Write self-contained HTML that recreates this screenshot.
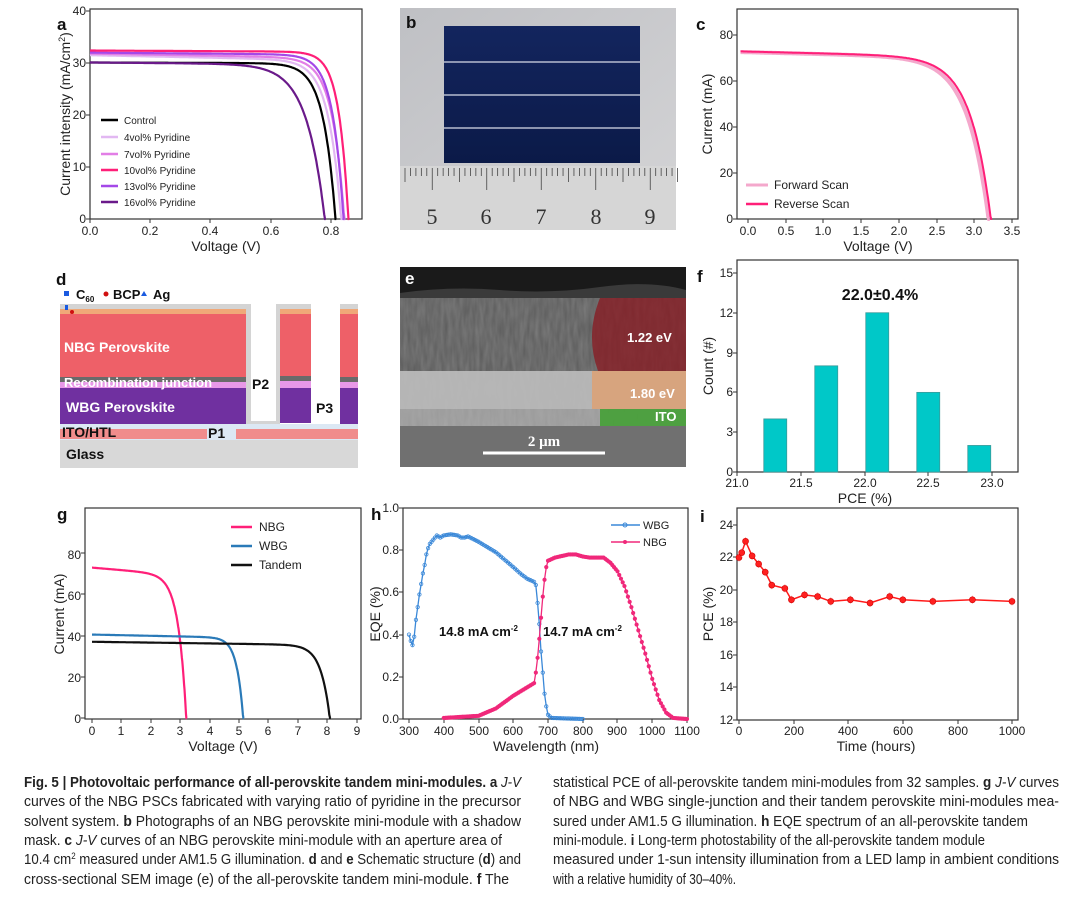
<!DOCTYPE html>
<html><head><meta charset="utf-8"><style>
body{margin:0;background:#fff}
svg{display:block;font-family:"Liberation Sans",sans-serif}
.t{font-size:12px;fill:#222}
.al{font-size:14px;fill:#222}
.pl{font-size:17px;font-weight:bold;fill:#111}
.cap{font-size:15px;fill:#222;font-family:"Liberation Sans Narrow","Liberation Sans",sans-serif}
.b{font-weight:bold}
</style></head><body>
<svg id="s" width="1080" height="897" viewBox="0 0 1080 897" xmlns="http://www.w3.org/2000/svg">
<rect width="1080" height="897" fill="#fff"/>

<!-- ===== Panel a ===== -->
<rect x="90" y="9" width="272" height="210" fill="none" stroke="#333" stroke-width="1.2"/>
<g id="ga"></g>
<text class="pl" x="57" y="30">a</text>
<g class="t" text-anchor="end"><text x="86" y="223">0</text><text x="86" y="171">10</text><text x="86" y="119">20</text><text x="86" y="67">30</text><text x="86" y="15">40</text></g>
<g class="t" text-anchor="middle"><text x="90" y="235">0.0</text><text x="150" y="235">0.2</text><text x="210" y="235">0.4</text><text x="271" y="235">0.6</text><text x="331" y="235">0.8</text></g>
<text class="al" x="226" y="251" text-anchor="middle">Voltage (V)</text>
<text class="al" transform="translate(70,114) rotate(-90)" text-anchor="middle">Current intensity (mA/cm<tspan font-size="9" dy="-5">2</tspan><tspan dy="5">)</tspan></text>
<g font-size="10" fill="#222">
<line x1="101" y1="120" x2="118" y2="120" stroke="#000" stroke-width="2.5"/><text x="124" y="124">Control</text>
<line x1="101" y1="137" x2="118" y2="137" stroke="#e2b8f2" stroke-width="2.5"/><text x="124" y="141">4vol% Pyridine</text>
<line x1="101" y1="154" x2="118" y2="154" stroke="#e27ee6" stroke-width="2.5"/><text x="124" y="158">7vol% Pyridine</text>
<line x1="101" y1="170" x2="118" y2="170" stroke="#ff1f78" stroke-width="2.5"/><text x="124" y="174">10vol% Pyridine</text>
<line x1="101" y1="186" x2="118" y2="186" stroke="#a448e8" stroke-width="2.5"/><text x="124" y="190">13vol% Pyridine</text>
<line x1="101" y1="202" x2="118" y2="202" stroke="#6a1a8a" stroke-width="2.5"/><text x="124" y="206">16vol% Pyridine</text>
</g>

<!-- ===== Panel b ===== -->
<defs>
<linearGradient id="bg1" x1="0" y1="0" x2="1" y2="1"><stop offset="0" stop-color="#bfc0c4"/><stop offset="1" stop-color="#d4d4d6"/></linearGradient>
<linearGradient id="mod" x1="0" y1="0" x2="0" y2="1"><stop offset="0" stop-color="#13255e"/><stop offset="1" stop-color="#0b1a48"/></linearGradient>
<clipPath id="ce"><rect x="400" y="267" width="286" height="200"/></clipPath>
<filter id="noise" filterUnits="userSpaceOnUse" x="400" y="298" width="286" height="128"><feTurbulence type="fractalNoise" baseFrequency="0.25 0.05" numOctaves="2" seed="3"/><feColorMatrix values="0 0 0 0 0.5 0 0 0 0 0.5 0 0 0 0 0.5 0 0 0 0.35 0"/></filter>
</defs>
<rect x="400" y="8" width="276" height="222" fill="url(#bg1)"/>
<rect x="444" y="26" width="196" height="137" fill="url(#mod)"/>
<g stroke="#d8dce8" stroke-width="1.2"><line x1="444" y1="62" x2="640" y2="62"/><line x1="444" y1="95" x2="640" y2="95"/><line x1="444" y1="128" x2="640" y2="128"/></g>
<rect x="400" y="166" width="276" height="64" fill="#d6d6d6"/>
<g id="ruler" stroke="#444" stroke-width="0.8"></g>
<g font-family="Liberation Serif,serif" font-size="22" fill="#333" text-anchor="middle"><text x="432" y="224">5</text><text x="486" y="224">6</text><text x="541" y="224">7</text><text x="596" y="224">8</text><text x="650" y="224">9</text></g>
<text class="pl" x="406" y="28">b</text>

<!-- ===== Panel c ===== -->
<rect x="737" y="9" width="281" height="210" fill="none" stroke="#333" stroke-width="1.2"/>
<g id="gc"></g>
<text class="pl" x="696" y="30">c</text>
<g class="t" text-anchor="end"><text x="733" y="223">0</text><text x="733" y="177">20</text><text x="733" y="131">40</text><text x="733" y="85">60</text><text x="733" y="39">80</text></g>
<g class="t" text-anchor="middle"><text x="748" y="235">0.0</text><text x="786" y="235">0.5</text><text x="823" y="235">1.0</text><text x="861" y="235">1.5</text><text x="899" y="235">2.0</text><text x="937" y="235">2.5</text><text x="974" y="235">3.0</text><text x="1012" y="235">3.5</text></g>
<text class="al" x="878" y="251" text-anchor="middle">Voltage (V)</text>
<text class="al" transform="translate(712,114) rotate(-90)" text-anchor="middle">Current (mA)</text>
<g font-size="12" fill="#222">
<line x1="746" y1="185" x2="768" y2="185" stroke="#f4a8cc" stroke-width="3"/><text x="774" y="189">Forward Scan</text>
<line x1="746" y1="204" x2="768" y2="204" stroke="#ff1f78" stroke-width="2.5"/><text x="774" y="208">Reverse Scan</text>
</g>

<!-- ===== Panel d ===== -->
<text class="pl" x="56" y="285">d</text>
<rect x="64" y="291" width="5" height="5" fill="#1a5ae0"/>
<text x="76" y="299" font-size="13" font-weight="bold" fill="#111">C<tspan font-size="8" dy="3">60</tspan></text>
<circle cx="106" cy="294" r="2.5" fill="#d01010"/><text x="113" y="299" font-size="13" font-weight="bold" fill="#111">BCP</text>
<polygon points="144,291 147,296 141,296" fill="#1a5ae0"/><text x="153" y="299" font-size="13" font-weight="bold" fill="#111">Ag</text>
<rect x="60" y="440" width="298" height="28" fill="#d8d8d8"/>
<rect x="60" y="424" width="298" height="16" fill="#dce8f4"/>
<rect x="60" y="429" width="147" height="10" fill="#f08c8c"/>
<rect x="236" y="429" width="122" height="10" fill="#f08c8c"/>
<rect x="60" y="304" width="186" height="6" fill="#d4d4d4"/>
<rect x="60" y="309" width="186" height="5" fill="#f0a878"/>
<rect x="60" y="314" width="186" height="63" fill="#ee6068"/>
<rect x="60" y="377" width="186" height="5" fill="#6a6a6a"/>
<rect x="60" y="382" width="186" height="6" fill="#e898e8"/>
<rect x="60" y="388" width="186" height="36" fill="#7030a0"/>
<rect x="246" y="304" width="5" height="120" fill="#d4d4d4"/>
<rect x="251" y="304" width="25" height="119" fill="#fff"/>
<rect x="276" y="304" width="4" height="120" fill="#d4d4d4"/>
<rect x="246" y="421" width="34" height="3" fill="#d4d4d4"/>
<rect x="280" y="304" width="31" height="5" fill="#d4d4d4"/>
<rect x="280" y="309" width="31" height="5" fill="#f0a878"/>
<rect x="280" y="314" width="31" height="62" fill="#ee6068"/>
<rect x="280" y="376" width="31" height="5" fill="#6a6a6a"/>
<rect x="280" y="381" width="31" height="7" fill="#e898e8"/>
<rect x="280" y="388" width="31" height="35" fill="#7030a0"/>
<rect x="311" y="304" width="29" height="120" fill="#fff"/>
<rect x="340" y="304" width="18" height="5" fill="#d4d4d4"/>
<rect x="340" y="309" width="18" height="5" fill="#f0a878"/>
<rect x="340" y="314" width="18" height="63" fill="#ee6068"/>
<rect x="340" y="377" width="18" height="5" fill="#6a6a6a"/>
<rect x="340" y="382" width="18" height="6" fill="#e898e8"/>
<rect x="340" y="388" width="18" height="36" fill="#7030a0"/>
<rect x="65" y="305" width="3" height="5" fill="#1a5ae0"/><circle cx="72" cy="312" r="2" fill="#d01010"/>
<g font-weight="bold" font-size="14">
<text x="64" y="352" fill="#fff">NBG Perovskite</text>
<text x="64" y="387" fill="#fff" font-size="13">Recombination junction</text>
<text x="66" y="412" fill="#fff">WBG Perovskite</text>
<text x="62" y="437" fill="#111">ITO/HTL</text>
<text x="66" y="459" fill="#111">Glass</text>
<text x="208" y="438" fill="#111">P1</text>
<text x="252" y="389" fill="#111">P2</text>
<text x="316" y="413" fill="#111">P3</text>
</g>

<!-- ===== Panel e ===== -->
<g clip-path="url(#ce)">
<rect x="400" y="267" width="286" height="200" fill="#6c6c6c"/>
<rect x="400" y="267" width="286" height="26" fill="#1a1a1a"/>
<path d="M400,293 Q450,286 500,290 T600,287 T686,290 L686,300 L400,300Z" fill="#3a3a3a"/>
<rect x="400" y="298" width="286" height="73" fill="#5a5a5a"/>
<rect x="400" y="371" width="286" height="38" fill="#b4b4b4"/>
<rect x="400" y="409" width="286" height="17" fill="#9a9a9a"/>
<rect x="400" y="426" width="286" height="41" fill="#707070"/>
<rect x="400" y="298" width="286" height="128" filter="url(#noise)"/>
<path d="M600,298 Q585,335 598,371 L686,371 L686,298Z" fill="#8a1820" opacity="0.75"/>
<rect x="592" y="371" width="94" height="38" fill="#e0a070" opacity="0.8"/>
<rect x="600" y="409" width="86" height="17" fill="#40a030" opacity="0.85"/>
</g>
<line x1="483" y1="453" x2="605" y2="453" stroke="#fff" stroke-width="3"/>
<text x="544" y="446" text-anchor="middle" fill="#fff" font-family="Liberation Serif,serif" font-weight="bold" font-size="15">2 μm</text>
<g fill="#fff" font-size="13" font-weight="bold"><text x="627" y="342">1.22 eV</text><text x="630" y="398">1.80 eV</text><text x="655" y="421">ITO</text></g>
<text x="405" y="284" font-size="17" font-weight="bold" fill="#fff">e</text>

<!-- ===== Panel f ===== -->
<rect x="737" y="260" width="281" height="212" fill="none" stroke="#333" stroke-width="1.2"/>
<g id="gf"></g>
<text class="pl" x="697" y="282">f</text>
<text x="880" y="300" text-anchor="middle" font-size="16" font-weight="bold" fill="#111">22.0±0.4%</text>
<g class="t" text-anchor="end"><text x="733" y="476">0</text><text x="733" y="436">3</text><text x="733" y="396">6</text><text x="733" y="357">9</text><text x="733" y="317">12</text><text x="733" y="277">15</text></g>
<g class="t" text-anchor="middle"><text x="737" y="487">21.0</text><text x="801" y="487">21.5</text><text x="865" y="487">22.0</text><text x="928" y="487">22.5</text><text x="992" y="487">23.0</text></g>
<text class="al" x="865" y="503" text-anchor="middle">PCE (%)</text>
<text class="al" transform="translate(713,366) rotate(-90)" text-anchor="middle">Count (#)</text>

<!-- ===== Panel g ===== -->
<rect x="85" y="508" width="276" height="211" fill="none" stroke="#333" stroke-width="1.2"/>
<g id="gg"></g>
<text class="pl" x="57" y="520">g</text>
<g class="t" text-anchor="end"><text x="81" y="723">0</text><text x="81" y="682">20</text><text x="81" y="641">40</text><text x="81" y="600">60</text><text x="81" y="559">80</text></g>
<g class="t" text-anchor="middle"><text x="92" y="735">0</text><text x="121" y="735">1</text><text x="151" y="735">2</text><text x="180" y="735">3</text><text x="210" y="735">4</text><text x="239" y="735">5</text><text x="268" y="735">6</text><text x="298" y="735">7</text><text x="327" y="735">8</text><text x="357" y="735">9</text></g>
<text class="al" x="223" y="751" text-anchor="middle">Voltage (V)</text>
<text class="al" transform="translate(64,614) rotate(-90)" text-anchor="middle">Current (mA)</text>
<g font-size="12" fill="#222">
<line x1="231" y1="527" x2="252" y2="527" stroke="#ff1f78" stroke-width="2.5"/><text x="259" y="531">NBG</text>
<line x1="231" y1="546" x2="252" y2="546" stroke="#2a7ab8" stroke-width="2.5"/><text x="259" y="550">WBG</text>
<line x1="231" y1="565" x2="252" y2="565" stroke="#111" stroke-width="2.5"/><text x="259" y="569">Tandem</text>
</g>

<!-- ===== Panel h ===== -->
<rect x="403" y="508" width="285" height="211" fill="none" stroke="#333" stroke-width="1.2"/>
<g id="gh"></g>
<text class="pl" x="371" y="520">h</text>
<g class="t" text-anchor="end"><text x="399" y="723">0.0</text><text x="399" y="681">0.2</text><text x="399" y="639">0.4</text><text x="399" y="596">0.6</text><text x="399" y="554">0.8</text><text x="399" y="512">1.0</text></g>
<g class="t" text-anchor="middle"><text x="409" y="735">300</text><text x="444" y="735">400</text><text x="479" y="735">500</text><text x="513" y="735">600</text><text x="548" y="735">700</text><text x="583" y="735">800</text><text x="617" y="735">900</text><text x="652" y="735">1000</text><text x="687" y="735">1100</text></g>
<text class="al" x="546" y="751" text-anchor="middle">Wavelength (nm)</text>
<text class="al" transform="translate(380,614) rotate(-90)" text-anchor="middle">EQE (%)</text>
<g font-size="11" fill="#222">
<line x1="611" y1="525" x2="640" y2="525" stroke="#3a88d8" stroke-width="1.5"/><circle cx="625" cy="525" r="2" fill="none" stroke="#3a88d8"/><text x="643" y="529">WBG</text>
<line x1="611" y1="542" x2="640" y2="542" stroke="#f0287a" stroke-width="1.5"/><circle cx="625" cy="542" r="2" fill="#f0287a"/><text x="643" y="546">NBG</text>
</g>
<g font-size="13" font-weight="bold" fill="#111">
<text x="439" y="636">14.8 mA cm<tspan font-size="8" dy="-5">-2</tspan></text>
<text x="543" y="636">14.7 mA cm<tspan font-size="8" dy="-5">-2</tspan></text>
</g>

<!-- ===== Panel i ===== -->
<rect x="737" y="508" width="281" height="212" fill="none" stroke="#333" stroke-width="1.2"/>
<g id="gi"></g>
<text class="pl" x="700" y="522">i</text>
<g class="t" text-anchor="end"><text x="733" y="724">12</text><text x="733" y="691">14</text><text x="733" y="659">16</text><text x="733" y="626">18</text><text x="733" y="594">20</text><text x="733" y="561">22</text><text x="733" y="529">24</text></g>
<g class="t" text-anchor="middle"><text x="739" y="735">0</text><text x="794" y="735">200</text><text x="848" y="735">400</text><text x="903" y="735">600</text><text x="958" y="735">800</text><text x="1012" y="735">1000</text></g>
<text class="al" x="876" y="751" text-anchor="middle">Time (hours)</text>
<text class="al" transform="translate(713,614) rotate(-90)" text-anchor="middle">PCE (%)</text>

<!-- ===== Caption ===== -->
<g class="cap">
<text x="24" y="787" textLength="497" lengthAdjust="spacingAndGlyphs"><tspan class="b">Fig. 5 | Photovoltaic performance of all-perovskite tandem mini-modules.</tspan> <tspan class="b">a</tspan> <tspan font-style="italic">J-V</tspan></text>
<text x="24" y="806" textLength="497" lengthAdjust="spacingAndGlyphs">curves of the NBG PSCs fabricated with varying ratio of pyridine in the precursor</text>
<text x="24" y="826" textLength="497" lengthAdjust="spacingAndGlyphs">solvent system. <tspan class="b">b</tspan> Photographs of an NBG perovskite mini-module with a shadow</text>
<text x="24" y="845" textLength="478" lengthAdjust="spacingAndGlyphs">mask. <tspan class="b">c</tspan> <tspan font-style="italic">J-V</tspan> curves of an NBG perovskite mini-module with an aperture area of</text>
<text x="24" y="864" textLength="497" lengthAdjust="spacingAndGlyphs">10.4 cm<tspan font-size="9" dy="-5">2</tspan><tspan dy="5"> measured under AM1.5 G illumination. </tspan><tspan class="b">d</tspan> and <tspan class="b">e</tspan> Schematic structure (<tspan class="b">d</tspan>) and</text>
<text x="24" y="884" textLength="485" lengthAdjust="spacingAndGlyphs">cross-sectional SEM image (e) of the all-perovskite tandem mini-module. <tspan class="b">f</tspan> The</text>
<text x="553" y="787" textLength="506" lengthAdjust="spacingAndGlyphs">statistical PCE of all-perovskite tandem mini-modules from 32 samples. <tspan class="b">g</tspan> <tspan font-style="italic">J-V</tspan> curves</text>
<text x="553" y="806" textLength="506" lengthAdjust="spacingAndGlyphs">of NBG and WBG single-junction and their tandem perovskite mini-modules mea-</text>
<text x="553" y="826" textLength="475" lengthAdjust="spacingAndGlyphs">sured under AM1.5 G illumination. <tspan class="b">h</tspan> EQE spectrum of an all-perovskite tandem</text>
<text x="553" y="845" textLength="432" lengthAdjust="spacingAndGlyphs">mini-module. <tspan class="b">i</tspan> Long-term photostability of the all-perovskite tandem module</text>
<text x="553" y="864" textLength="506" lengthAdjust="spacingAndGlyphs">measured under 1-sun intensity illumination from a LED lamp in ambient conditions</text>
<text x="553" y="884" textLength="183" lengthAdjust="spacingAndGlyphs">with a relative humidity of 30–40%.</text>
</g>
</svg>
<script>
var NS="http://www.w3.org/2000/svg";
function el(g,tag,a){var e=document.createElementNS(NS,tag);for(var k in a)e.setAttribute(k,a[k]);document.getElementById(g).appendChild(e);return e;}
function path(g,pts,a){var d="";pts.forEach(function(p,i){d+=(i?"L":"M")+p[0].toFixed(1)+","+p[1].toFixed(1);});a.d=d;a.fill=a.fill||"none";return el(g,"path",a);}
function jv(Jsc,Voc,b,slope,v){return Jsc*(1-(Math.exp(v/b)-1)/(Math.exp(Voc/b)-1))-slope*v;}
function curve(g,Jsc,Voc,b,slope,X,Y,v0,a){var pts=[];for(var v=v0;v<=Voc*1.005;v+=Voc/300){var j=jv(Jsc,Voc,b,slope,v);if(j<0)j=0;pts.push([X(v),Y(j)]);}pts.push([X(Voc),Y(0)]);path(g,pts,a);}
function ticks(g,xs,y0,ys,x0){xs.forEach(function(x){el(g,"line",{x1:x,y1:y0,x2:x,y2:y0+4,stroke:"#333"});});ys.forEach(function(y){el(g,"line",{x1:x0,y1:y,x2:x0-4,y2:y,stroke:"#333"});});}
(function(){var X=function(v){return 90+v*301.25},Y=function(j){return 219-j*5.2};
ticks("ga",[90,150,210,271,331],219,[219,167,115,63,11],90);
curve("ga",31.5,0.835,0.042,1.2,X,Y,0,{stroke:"#e2b8f2","stroke-width":2.2});
curve("ga",31.8,0.845,0.04,1,X,Y,0,{stroke:"#e27ee6","stroke-width":2.2});
curve("ga",32.0,0.842,0.036,0.5,X,Y,0,{stroke:"#a448e8","stroke-width":2.2});
curve("ga",32.4,0.858,0.032,0.3,X,Y,0,{stroke:"#ff1f78","stroke-width":2.2});
curve("ga",30.1,0.815,0.04,0.2,X,Y,0,{stroke:"#000","stroke-width":2.2});
curve("ga",30.1,0.78,0.06,0.5,X,Y,0,{stroke:"#6a1a8a","stroke-width":2.2});})();
(function(){for(var i=0;i<=50;i++){var x=405+i*5.45;var h=(i%10==5)?22:(i%5==0?14:8);el("ruler","line",{x1:x,y1:168,x2:x,y2:168+h});}})();
(function(){var X=function(v){return 748+v*75.4},Y=function(j){return 219-j*2.3};
ticks("gc",[748,786,823,861,899,937,974,1012],219,[219,173,127,81,35],737);
curve("gc",72.5,3.2,0.28,0.8,X,Y,-0.1,{stroke:"#f4a8cc","stroke-width":4});
curve("gc",72.8,3.23,0.27,0.8,X,Y,-0.1,{stroke:"#ff1f78","stroke-width":2});})();
(function(){var X=function(p){return 737+(p-21)*127.5},Y=function(c){return 472-c*13.27};
ticks("gf",[737,801,865,928,992],472,[472,432,392,353,313,273],737);
[[21.3,4],[21.7,8],[22.1,12],[22.5,6],[22.9,2]].forEach(function(d){el("gf","rect",{x:X(d[0]-0.09),y:Y(d[1]),width:0.18*127.5,height:d[1]*13.27,fill:"#00c8c8",stroke:"#3a9a9a","stroke-width":0.8});});})();
(function(){var X=function(v){return 92+v*29.4},Y=function(j){return 718-j*2.06};
ticks("gg",[92,121,151,180,210,239,268,298,327,357],719,[718,677,636,594,553],85);
curve("gg",73,3.22,0.27,1.2,X,Y,0,{stroke:"#ff1f78","stroke-width":2.2});
curve("gg",40.5,5.15,0.22,0.3,X,Y,0,{stroke:"#2a7ab8","stroke-width":2.2});
curve("gg",37,8.1,0.3,0.2,X,Y,0,{stroke:"#111","stroke-width":2.2});})();
(function(){var X=function(w){return 409+(w-300)*0.3475},Y=function(e){return 719-e*211};
ticks("gh",[409,444,479,513,548,583,617,652,687],719,[719,677,635,592,550,508],403);
function interp(d,w){for(var i=1;i<d.length;i++){if(w<=d[i][0]){var a=d[i-1],b=d[i];return a[1]+(b[1]-a[1])*(w-a[0])/(b[0]-a[0]);}}return d[d.length-1][1];}
var W=[[300,.40],[305,.37],[310,.35],[315,.39],[320,.47],[325,.53],[330,.59],[335,.64],[340,.69],[345,.73],[350,.78],[355,.81],[360,.83],[370,.85],[380,.87],[390,.86],[400,.87],[420,.875],[440,.87],[450,.86],[460,.86],[470,.865],[500,.84],[550,.79],[600,.72],[620,.69],[640,.665],[660,.65],[665,.635],[670,.55],[675,.45],[680,.32],[685,.22],[690,.12],[695,.06],[700,.02],[710,.005],[800,0]];
var N=[[400,.005],[500,.015],[550,.05],[600,.11],[640,.15],[660,.17],[665,.22],[670,.29],[675,.38],[680,.48],[685,.58],[690,.66],[695,.72],[700,.75],[720,.765],[760,.78],[780,.78],[800,.77],[820,.765],[860,.765],[880,.74],[900,.70],[920,.63],[940,.53],[960,.42],[980,.31],[1000,.19],[1020,.09],[1040,.03],[1060,.005],[1100,0]];
function draw(d,w0,w1,col,fill){var pts=[];for(var w=w0;w<=w1;w+=5)pts.push([X(w),Y(interp(d,w))]);path("gh",pts,{stroke:col,"stroke-width":1.3});pts.forEach(function(p){el("gh","circle",{cx:p[0],cy:p[1],r:1.7,fill:fill,stroke:col,"stroke-width":0.8});});}
draw(W,300,800,"#3a88d8","none");draw(N,400,1100,"#f0287a","#f0287a");})();
(function(){var X=function(t){return 739+t*0.273},Y=function(p){return 720-(p-12)*16.25};
ticks("gi",[739,794,848,903,958,1012],720,[720,687,655,622,590,557,525],737);
var D=[[0,22],[10,22.3],[24,23],[48,22.1],[72,21.6],[96,21.1],[120,20.3],[168,20.1],[192,19.4],[240,19.7],[288,19.6],[336,19.3],[408,19.4],[480,19.2],[552,19.6],[600,19.4],[710,19.3],[855,19.4],[1000,19.3]];
var pts=D.map(function(d){return [X(d[0]),Y(d[1])]});
path("gi",pts,{stroke:"#ff1a1a","stroke-width":1.5});
pts.forEach(function(p){el("gi","line",{x1:p[0],y1:p[1]-4,x2:p[0],y2:p[1]+4,stroke:"#f8a0a0"});el("gi","circle",{cx:p[0],cy:p[1],r:3,fill:"#ff2020",stroke:"#d00000","stroke-width":0.6});});})();
</script>
</body></html>
